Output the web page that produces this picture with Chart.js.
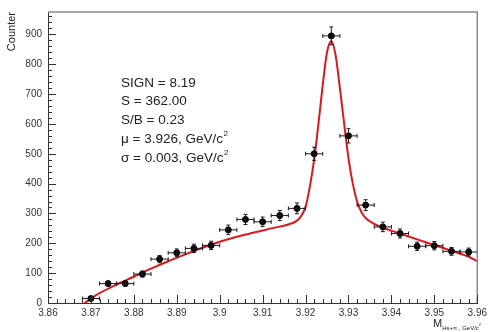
<!DOCTYPE html>
<html>
<head>
<meta charset="utf-8">
<script src="https://cdn.jsdelivr.net/npm/chart.js@4.4.1/dist/chart.umd.min.js"></script>
<style>
  html, body { margin: 0; padding: 0; background: #fff; }
  canvas { display: block; }
</style>
</head>
<body>
<canvas id="mass" width="491" height="332"></canvas>
<script>
var binCenters = [3.870, 3.874, 3.878, 3.882, 3.886, 3.890, 3.894, 3.898, 3.902, 3.906, 3.910, 3.914,
                  3.918, 3.922, 3.926, 3.930, 3.934, 3.938, 3.942, 3.946, 3.950, 3.954, 3.958],
    counts = [15, 65, 65, 97, 147, 168, 183, 193, 245, 280, 272, 293,
              317, 500, 895, 560, 328, 255, 233, 190, 192, 173, 171],
    countErrors = [4, 8, 8, 10, 12, 13, 14, 14, 16, 17, 16, 17,
                   18, 22, 30, 24, 18, 16, 15, 14, 14, 13, 13],
    binHalfWidth = 0.002,
    fitX = [3.8685, 3.872, 3.876, 3.880, 3.884, 3.888, 3.892, 3.896, 3.900, 3.904, 3.908, 3.912,
            3.916, 3.918, 3.919, 3.920, 3.921, 3.922, 3.923, 3.924, 3.925, 3.926, 3.927, 3.928,
            3.929, 3.930, 3.931, 3.932, 3.933, 3.934, 3.936, 3.938, 3.942, 3.946, 3.950, 3.954,
            3.958, 3.960],
    fitY = [0, 33, 62, 88, 115, 140, 163, 185, 205, 222, 236, 250,
            263, 276, 292, 322, 390, 480, 600, 730, 840, 878, 830, 720,
            600, 485, 400, 340, 305, 285, 265, 252, 233, 213, 194, 175,
            155, 140],
    fitText = ["SIGN = 8.19", "S = 362.00", "S/B = 0.23", "\u03bc = 3.926, GeV/c", "\u03c3 = 0.003, GeV/c"];

var FONT = "'Liberation Sans', Arial, sans-serif";

function buildPoints(xs, ys) {
    var out = [];
    for (var i = 0; i < xs.length; i++) {
        out.push({ x: xs[i], y: ys[i] });
    }
    return out;
}

// ROOT-like frame, inward ticks, error bars and texts
var rootStyle = {
    id: 'rootStyle',
    afterDatasetsDraw: function (chart) {
        var ctx = chart.ctx,
            area = chart.chartArea,
            xs = chart.scales.x,
            ys = chart.scales.y,
            v, px, py, i, len;

        ctx.save();

        // error bars
        ctx.strokeStyle = '#1a1a1a';
        ctx.lineWidth = 1;
        for (i = 0; i < binCenters.length; i++) {
            var cx = xs.getPixelForValue(binCenters[i]),
                cy = ys.getPixelForValue(counts[i]),
                x0 = xs.getPixelForValue(binCenters[i] - binHalfWidth),
                x1 = xs.getPixelForValue(binCenters[i] + binHalfWidth),
                y0 = ys.getPixelForValue(counts[i] - countErrors[i]),
                y1 = ys.getPixelForValue(counts[i] + countErrors[i]);
            ctx.beginPath();
            ctx.moveTo(x0, cy); ctx.lineTo(x1, cy);
            ctx.moveTo(x0, cy - 2); ctx.lineTo(x0, cy + 2);
            ctx.moveTo(x1, cy - 2); ctx.lineTo(x1, cy + 2);
            ctx.moveTo(cx, y0); ctx.lineTo(cx, y1);
            ctx.moveTo(cx - 2, y0); ctx.lineTo(cx + 2, y0);
            ctx.moveTo(cx - 2, y1); ctx.lineTo(cx + 2, y1);
            ctx.stroke();
        }

        // frame
        ctx.strokeStyle = '#8a8a8a';
        ctx.lineWidth = 1.5;
        ctx.beginPath();
        ctx.moveTo(area.left, area.top);
        ctx.lineTo(area.right, area.top);
        ctx.lineTo(area.right, area.bottom);
        ctx.stroke();

        // inward ticks
        ctx.strokeStyle = '#333';
        ctx.lineWidth = 1;
        ctx.beginPath();
        for (i = 0; i <= 50; i++) {
            v = 3.86 + i * 0.002;
            px = Math.round(xs.getPixelForValue(v)) + 0.5;
            len = (i % 5 === 0) ? 8 : 4;
            ctx.moveTo(px, area.bottom);
            ctx.lineTo(px, area.bottom - len);
        }
        for (i = 0; i * 20 <= ys.max; i++) {
            py = Math.round(ys.getPixelForValue(i * 20)) + 0.5;
            len = (i % 5 === 0) ? 8 : 4;
            ctx.moveTo(area.left, py);
            ctx.lineTo(area.left + len, py);
        }
        ctx.stroke();

        // axis titles
        ctx.fillStyle = '#222';
        ctx.save();
        ctx.translate(12, area.top);
        ctx.rotate(-Math.PI / 2);
        ctx.font = '11px ' + FONT;
        ctx.textAlign = 'right';
        ctx.textBaseline = 'middle';
        ctx.fillText('Counter', 0, 0);
        ctx.restore();

        ctx.textAlign = 'left';
        ctx.textBaseline = 'alphabetic';
        ctx.font = '11px ' + FONT;
        var tx = 433;
        ctx.fillText('M', tx, 327);
        tx += ctx.measureText('M').width;
        ctx.font = '6px ' + FONT;
        ctx.fillText('Hs+\u03c0 , GeV/c', tx, 330);
        tx += ctx.measureText('Hs+\u03c0 , GeV/c').width;
        ctx.font = '4px ' + FONT;
        ctx.fillText('2', tx, 326);

        // fit results
        ctx.textBaseline = 'middle';
        for (i = 0; i < fitText.length; i++) {
            var ly = 83 + i * 18.7;
            ctx.font = '13.5px ' + FONT;
            ctx.fillText(fitText[i], 121, ly);
            if (i >= 3) {
                var w = ctx.measureText(fitText[i]).width;
                ctx.font = '8px ' + FONT;
                ctx.fillText('2', 121 + w + 0.5, ly - 5);
            }
        }

        ctx.restore();
    }
};

function drawMassChart() {
    var ctx = document.getElementById('mass'),
        datasets = [{
            label: 'data',
            data: buildPoints(binCenters, counts),
            pointRadius: 3,
            pointBackgroundColor: '#000',
            pointBorderColor: '#000',
            showLine: false,
            order: 0
        }, {
            label: 'fit',
            data: buildPoints(fitX, fitY),
            showLine: true,
            borderColor: '#e0161e',
            borderWidth: 2,
            pointRadius: 0,
            cubicInterpolationMode: 'monotone',
            order: 1
        }];

    new Chart(ctx, {
        type: 'scatter',
        data: { datasets: datasets },
        options: {
            responsive: false,
            animation: false,
            layout: { padding: { top: 5, right: 9, left: 0, bottom: 0 } },
            plugins: {
                legend: { display: false },
                tooltip: { enabled: false }
            },
            scales: {
                x: {
                    type: 'linear',
                    min: 3.86,
                    max: 3.96,
                    grid: { display: false, drawTicks: false },
                    border: { color: '#333', width: 1 },
                    ticks: {
                        stepSize: 0.01,
                        maxRotation: 0,
                        autoSkip: false,
                        padding: 4,
                        color: '#333',
                        font: { family: FONT, size: 10 },
                        callback: function (v) { return String(+v.toFixed(2)); }
                    },
                    afterFit: function (s) { s.height = 29; }
                },
                y: {
                    type: 'linear',
                    min: 0,
                    max: 975,
                    grid: { display: false, drawTicks: false },
                    border: { color: '#333', width: 1 },
                    ticks: {
                        stepSize: 100,
                        padding: 6,
                        color: '#333',
                        font: { family: FONT, size: 10 },
                        callback: function (v) { return v % 100 === 0 ? String(v) : ''; }
                    },
                    afterFit: function (s) { s.width = 48; }
                }
            }
        },
        plugins: [rootStyle]
    });
}

window.onload = function () {
    drawMassChart();
};
</script>
</body>
</html>
